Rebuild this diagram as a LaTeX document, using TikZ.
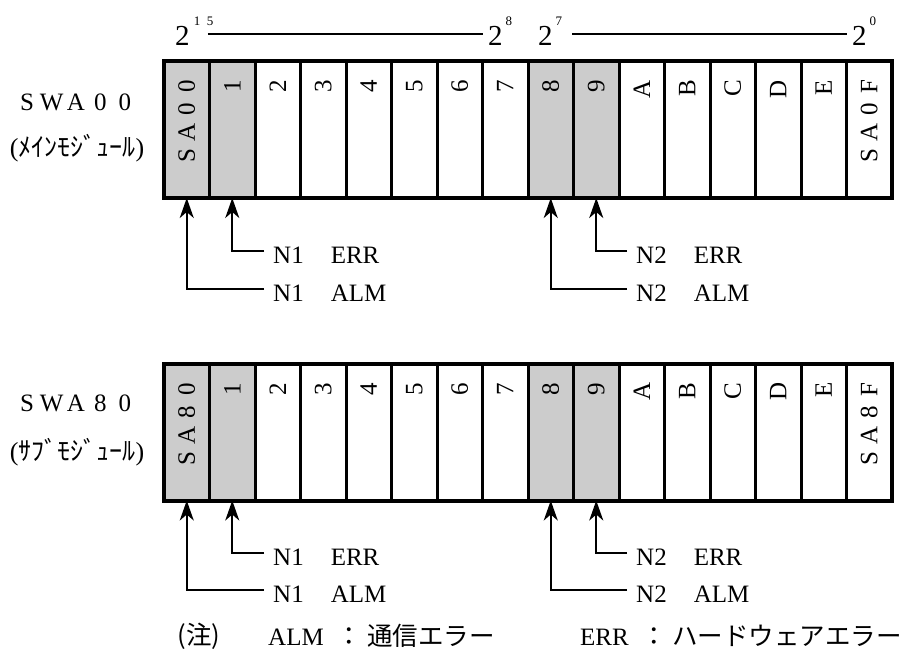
\documentclass[tikz,border=0pt]{standalone}
\usepackage{fontspec}
\setmainfont{Liberation Serif}
\newfontfamily\jp{Noto Sans CJK JP}
\usepackage{tikz}
\usetikzlibrary{arrows.meta,positioning}
\newcommand{\fw}[2][23pt]{\makebox[#1]{#2}}
\newcommand{\txtsize}{\fontsize{25}{30}\selectfont}
\tikzstyle{bitcell} =[draw, line width=3pt, minimum width=45.5pt, minimum height=137pt, inner sep=0pt, outer sep=0pt]
\tikzstyle{bitlabel} =[rotate=90, anchor=east, inner sep=0pt, font=\txtsize]
\tikzstyle{flagtext} =[anchor=west, inner sep=9pt, font=\txtsize]
\tikzstyle{flagarrow} =[line width=2pt, -{Stealth[length=20pt,width=14pt,inset=6pt]}]
\tikzstyle{expo} =[anchor=base west, inner sep=0pt, font=\fontsize{29}{30}\selectfont]
\tikzstyle{modname} =[inner sep=0pt, font=\fontsize{26}{30}\selectfont]
\newcommand{\expsup}[1]{\raisebox{20pt}{\fontsize{13}{13}\selectfont #1}}
\begin{document}
\begin{tikzpicture}[x=1pt,y=1pt]
  \useasboundingbox (0,0) rectangle (917,-651);
  % bit weights
  \node[expo] (e15) at (175,-45) {2\kern1pt\expsup{\fw[13pt]{1}\fw[13pt]{5}}};
  \node[expo] (e8) at (488,-45) {2\kern3pt\expsup{8}};
  \node[expo] (e7) at (538,-45) {2\kern3pt\expsup{7}};
  \node[expo] (e0) at (852,-45) {2\kern3pt\expsup{0}};
  \draw[line width=2.5pt] ([xshift=-9pt,yshift=11pt]e15.base east) -- ([xshift=-5pt,yshift=11pt]e8.base west);
  \draw[line width=2.5pt] ([xshift=10pt,yshift=11pt]e7.base east) -- ([xshift=-5pt,yshift=11pt]e0.base west);
  % registers
  \foreach \r/\y in {t/-129.5,b/-432}{
    \foreach \i in {0,...,15}{
      \pgfmathtruncatemacro\shade{(\i==0||\i==1||\i==8||\i==9)?40:0}
      \node[bitcell, fill=gray!\shade] (\r\i) at ({186.75+45.5*\i},\y) {};
    }
    \draw[line width=4pt] (\r0.north west) rectangle (\r15.south east);
    \foreach \i/\t in {1/1,2/2,3/3,4/4,5/5,6/6,7/7,8/8,9/9,10/A,11/B,12/C,13/D,14/E}
      \node[bitlabel] at ([yshift=-19pt]\r\i.north) {\t};
  }
  \node[bitlabel] at ([yshift=-14pt]t0.north) {\fw{S}\fw{A}\fw{0}\fw{0}};
  \node[bitlabel] at ([yshift=-14pt]t15.north) {\fw{S}\fw{A}\fw{0}\fw{F}};
  \node[bitlabel] at ([yshift=-14pt]b0.north) {\fw{S}\fw{A}\fw{8}\fw{0}};
  \node[bitlabel] at ([yshift=-14pt]b15.north) {\fw{S}\fw{A}\fw{8}\fw{F}};
  % module names
  \node[modname, font=\txtsize] (swa00) at (76,-102) {\fw[24.4pt]{S}\fw[24.4pt]{W}\fw[24.4pt]{A}\fw[24.4pt]{0}\fw[24.4pt]{0}};
  \node[modname] (mainmod) at (77,-148) {({\jp ﾒｲﾝﾓｼﾞｭｰﾙ})};
  \node[modname, font=\txtsize] (swa80) at (76,-403) {\fw[24.4pt]{S}\fw[24.4pt]{W}\fw[24.4pt]{A}\fw[24.4pt]{8}\fw[24.4pt]{0}};
  \node[modname] (submod) at (77,-452) {({\jp ｻﾌﾞﾓｼﾞｭｰﾙ})};
  % error flags
  \foreach \r/\ya/\yb in {t/-255/-293,b/-557/-594}{
    \node[flagtext] (\r n1err) at (264,\ya) {N1\hspace{27pt}ERR};
    \node[flagtext] (\r n1alm) at (264,\yb) {N1\hspace{27pt}ALM};
    \node[flagtext] (\r n2err) at (627,\ya) {N2\hspace{27pt}ERR};
    \node[flagtext] (\r n2alm) at (627,\yb) {N2\hspace{27pt}ALM};
    \draw[flagarrow] ([yshift=4pt]\r n1err.west) -| (\r1.south);
    \draw[flagarrow] ([yshift=4pt]\r n1alm.west) -| (\r0.south);
    \draw[flagarrow] ([yshift=4pt]\r n2err.west) -| (\r9.south);
    \draw[flagarrow] ([yshift=4pt]\r n2alm.west) -| (\r8.south);
  }
  % note
  \node[modname, font=\fontsize{25.5}{30}\selectfont] (chu) at (199,-636) {\jp (注)};
  \node[modname, anchor=west, font=\txtsize] (almnote) at (268,-636) {ALM\hspace{13pt}{\jp\fontsize{25.5}{30}\selectfont ：\hspace{5pt}通信エラー}};
  \node[modname, anchor=west, font=\txtsize] (errnote) at (580,-636) {ERR\hspace{13pt}{\jp\fontsize{25.5}{30}\selectfont ：\hspace{5pt}ハードウェアエラー}};
\end{tikzpicture}
\end{document}
